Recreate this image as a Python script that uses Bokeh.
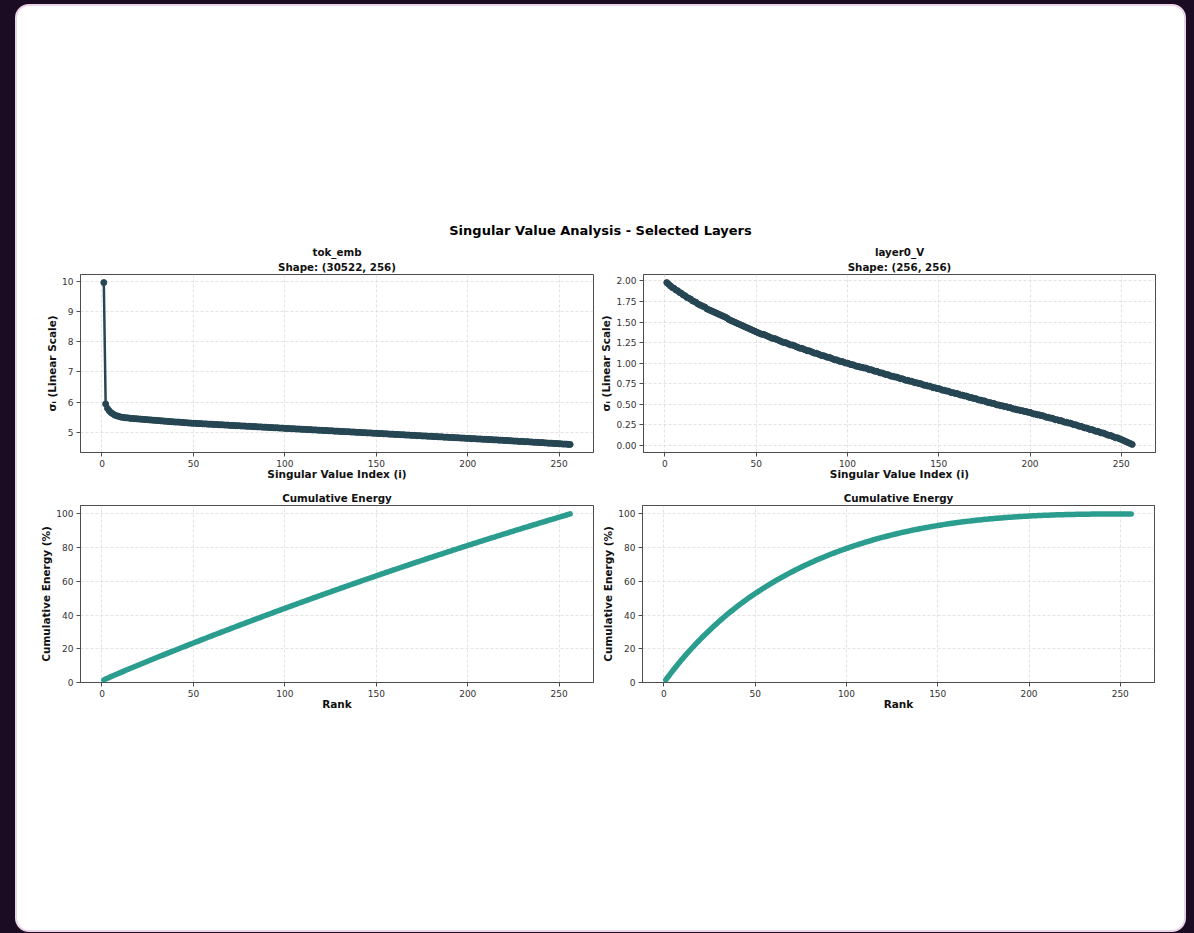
import numpy as np
from bokeh.plotting import figure
from bokeh.models import Range1d, FixedTicker, Div, NumeralTickFormatter, Title
from bokeh.layouts import column, row
from bokeh.embed import file_html
from bokeh.resources import INLINE

# Singular values of the token embedding matrix (30522 x 256), largest first
tok_emb_sv = [
    9.96, 5.94, 5.79, 5.71, 5.65, 5.61, 5.57, 5.55, 5.53, 5.51,
    5.50, 5.49, 5.48, 5.48, 5.47, 5.46, 5.46, 5.45, 5.45, 5.44,
    5.44, 5.43, 5.43, 5.42, 5.42, 5.41, 5.41, 5.40, 5.40, 5.39,
    5.39, 5.38, 5.38, 5.37, 5.37, 5.36, 5.36, 5.35, 5.35, 5.34,
    5.34, 5.34, 5.33, 5.33, 5.32, 5.32, 5.31, 5.31, 5.30, 5.30,
    5.30, 5.29, 5.29, 5.29, 5.28, 5.28, 5.28, 5.27, 5.27, 5.27,
    5.26, 5.26, 5.26, 5.25, 5.25, 5.25, 5.24, 5.24, 5.24, 5.23,
    5.23, 5.23, 5.22, 5.22, 5.22, 5.21, 5.21, 5.21, 5.20, 5.20,
    5.20, 5.19, 5.19, 5.19, 5.18, 5.18, 5.18, 5.17, 5.17, 5.17,
    5.16, 5.16, 5.16, 5.15, 5.15, 5.15, 5.14, 5.14, 5.14, 5.13,
    5.13, 5.13, 5.12, 5.12, 5.12, 5.11, 5.11, 5.11, 5.10, 5.10,
    5.10, 5.09, 5.09, 5.09, 5.08, 5.08, 5.08, 5.07, 5.07, 5.07,
    5.06, 5.06, 5.06, 5.05, 5.05, 5.05, 5.04, 5.04, 5.04, 5.03,
    5.03, 5.03, 5.02, 5.02, 5.02, 5.01, 5.01, 5.01, 5.00, 5.00,
    5.00, 4.99, 4.99, 4.99, 4.98, 4.98, 4.98, 4.97, 4.97, 4.97,
    4.96, 4.96, 4.96, 4.95, 4.95, 4.95, 4.94, 4.94, 4.94, 4.93,
    4.93, 4.93, 4.92, 4.92, 4.92, 4.91, 4.91, 4.91, 4.90, 4.90,
    4.90, 4.89, 4.89, 4.89, 4.88, 4.88, 4.88, 4.87, 4.87, 4.87,
    4.86, 4.86, 4.86, 4.85, 4.85, 4.85, 4.84, 4.84, 4.84, 4.83,
    4.83, 4.83, 4.82, 4.82, 4.82, 4.81, 4.81, 4.81, 4.80, 4.80,
    4.80, 4.79, 4.79, 4.79, 4.78, 4.78, 4.78, 4.77, 4.77, 4.77,
    4.76, 4.76, 4.76, 4.75, 4.75, 4.75, 4.74, 4.74, 4.74, 4.73,
    4.73, 4.73, 4.72, 4.72, 4.71, 4.71, 4.71, 4.70, 4.70, 4.70,
    4.69, 4.69, 4.69, 4.68, 4.68, 4.67, 4.67, 4.67, 4.66, 4.66,
    4.66, 4.65, 4.65, 4.64, 4.64, 4.64, 4.63, 4.63, 4.63, 4.62,
    4.62, 4.61, 4.61, 4.61, 4.60, 4.60,
]

# Singular values of the first layer's value projection (256 x 256)
layer0_v_sv = [
    1.98, 1.96, 1.94, 1.92, 1.91, 1.89, 1.88, 1.86, 1.85, 1.83,
    1.82, 1.80, 1.79, 1.78, 1.76, 1.75, 1.74, 1.72, 1.71, 1.70,
    1.69, 1.68, 1.66, 1.65, 1.64, 1.63, 1.62, 1.61, 1.60, 1.59,
    1.58, 1.57, 1.56, 1.55, 1.53, 1.52, 1.51, 1.50, 1.49, 1.48,
    1.47, 1.46, 1.45, 1.44, 1.43, 1.42, 1.41, 1.40, 1.39, 1.38,
    1.37, 1.36, 1.35, 1.35, 1.34, 1.33, 1.32, 1.31, 1.30, 1.30,
    1.29, 1.28, 1.27, 1.26, 1.25, 1.25, 1.24, 1.23, 1.22, 1.22,
    1.21, 1.20, 1.19, 1.18, 1.18, 1.17, 1.16, 1.15, 1.15, 1.14,
    1.13, 1.12, 1.12, 1.11, 1.10, 1.09, 1.09, 1.08, 1.07, 1.07,
    1.06, 1.05, 1.04, 1.04, 1.03, 1.02, 1.02, 1.01, 1.00, 1.00,
    0.99, 0.98, 0.98, 0.97, 0.96, 0.96, 0.95, 0.95, 0.94, 0.94,
    0.93, 0.92, 0.92, 0.91, 0.90, 0.90, 0.89, 0.88, 0.88, 0.87,
    0.86, 0.86, 0.85, 0.84, 0.84, 0.83, 0.83, 0.82, 0.81, 0.81,
    0.80, 0.79, 0.79, 0.78, 0.78, 0.77, 0.76, 0.76, 0.75, 0.75,
    0.74, 0.73, 0.73, 0.72, 0.72, 0.71, 0.70, 0.70, 0.69, 0.69,
    0.68, 0.67, 0.67, 0.66, 0.66, 0.65, 0.64, 0.64, 0.63, 0.63,
    0.62, 0.61, 0.61, 0.60, 0.60, 0.59, 0.58, 0.58, 0.57, 0.57,
    0.56, 0.55, 0.55, 0.54, 0.54, 0.53, 0.52, 0.52, 0.51, 0.51,
    0.50, 0.49, 0.49, 0.48, 0.48, 0.47, 0.47, 0.46, 0.46, 0.45,
    0.44, 0.44, 0.43, 0.43, 0.42, 0.42, 0.41, 0.41, 0.40, 0.40,
    0.39, 0.38, 0.38, 0.37, 0.37, 0.36, 0.36, 0.35, 0.34, 0.34,
    0.33, 0.33, 0.32, 0.31, 0.31, 0.30, 0.30, 0.29, 0.28, 0.28,
    0.27, 0.27, 0.26, 0.25, 0.25, 0.24, 0.23, 0.23, 0.22, 0.21,
    0.21, 0.20, 0.19, 0.19, 0.18, 0.17, 0.17, 0.16, 0.15, 0.15,
    0.14, 0.13, 0.12, 0.12, 0.11, 0.10, 0.09, 0.09, 0.08, 0.07,
    0.06, 0.05, 0.04, 0.03, 0.02, 0.01,
]

rank = list(range(1, len(tok_emb_sv) + 1))
rank_v = list(range(1, len(layer0_v_sv) + 1))

x_ticks = [0, 50, 100, 150, 200, 250]
tok_emb_yticks = [5, 6, 7, 8, 9, 10]
layer0_v_yticks = [0.0, 0.25, 0.5, 0.75, 1.0, 1.25, 1.5, 1.75, 2.0]
energy_yticks = [0, 20, 40, 60, 80, 100]

suptitle = "Singular Value Analysis - Selected Layers"
layer_names = ["tok_emb", "layer0_V"]
layer_shapes = ["Shape: (30522, 256)", "Shape: (256, 256)"]

FONT = "DejaVu Sans"
SV_COLOR = "#264653"
ENERGY_COLOR = "#2a9d8f"
FRAME_COLOR = "#4d4d4d"


def cumulative_energy(sv):
    s2 = np.asarray(sv, dtype=float) ** 2
    return np.cumsum(s2) / s2.sum() * 100.0


def padded(lo, hi, frac=0.05):
    d = (hi - lo) * frac
    return lo - d, hi + d


def style_title(t):
    t.align = "center"
    t.text_font = FONT
    t.text_font_size = "10.3px"
    t.text_font_style = "bold"
    t.text_color = "#111111"
    t.standoff = 3
    t.offset = 0


def make_axes(title, xlabel, ylabel, yrange, yticks, frame_w, frame_h,
              left, right, top, bottom):
    xr = padded(1, 256)
    p = figure(frame_width=frame_w, frame_height=frame_h,
               x_range=Range1d(*xr), y_range=Range1d(*yrange),
               output_backend="svg", toolbar_location=None,
               min_border_left=left, min_border_right=right,
               min_border_top=top, min_border_bottom=bottom,
               background_fill_color="white", border_fill_color=None)
    p.title.text = title
    style_title(p.title)

    p.outline_line_color = FRAME_COLOR
    p.outline_line_width = 1
    p.outline_line_alpha = 1

    for ax in (p.xaxis[0], p.yaxis[0]):
        ax.axis_line_color = FRAME_COLOR
        ax.major_tick_line_color = FRAME_COLOR
        ax.major_tick_out = 4
        ax.major_tick_in = 0
        ax.minor_tick_line_color = None
        ax.major_label_text_font = FONT
        ax.major_label_text_font_size = "9px"
        ax.major_label_text_color = "#333333"
        ax.major_label_standoff = 3
        ax.axis_label_text_font = FONT
        ax.axis_label_text_font_size = "10.5px"
        ax.axis_label_text_font_style = "bold"
        ax.axis_label_text_color = "#111111"
        ax.axis_label_standoff = 1

    p.xaxis[0].axis_label_standoff = -2
    p.xaxis[0].axis_label = xlabel
    p.yaxis[0].axis_label = ylabel
    p.xaxis[0].ticker = FixedTicker(ticks=x_ticks)
    p.yaxis[0].ticker = FixedTicker(ticks=yticks)

    p.grid.grid_line_color = "#dcdcdc"
    p.grid.grid_line_dash = "3 2"
    p.grid.grid_line_width = 0.8
    return p


def sv_panel(sv, ranks, name, shape, yticks, frame_w, left, right):
    yr = padded(min(sv), max(sv))
    p = make_axes(name, "Singular Value Index (i)", "σᵢ (Linear Scale)",
                  yr, yticks, frame_w, 178, left, right, 33, 36)
    p.title.standoff = 0
    sub = Title(text=shape)
    style_title(sub)
    p.add_layout(sub, "above")
    p.line(ranks, sv, line_width=2.5, color=SV_COLOR)
    p.scatter(ranks, sv, size=6, color=SV_COLOR)
    return p


def energy_panel(sv, ranks, frame_w, left, right):
    p = make_axes("Cumulative Energy", "Rank", "Cumulative Energy (%)",
                  (0, 105), energy_yticks, frame_w, 177, left, right, 16, 40)
    p.line(ranks, cumulative_energy(sv), line_width=5.5, color=ENERGY_COLOR,
           line_cap="round")
    return p


tl = sv_panel(tok_emb_sv, rank, layer_names[0], layer_shapes[0],
              tok_emb_yticks, 513, 63, 4)
tr = sv_panel(layer0_v_sv, rank_v, layer_names[1], layer_shapes[1],
              layer0_v_yticks, 512, 45, 20)
tr.yaxis[0].formatter = NumeralTickFormatter(format="0.00")
bl = energy_panel(tok_emb_sv, rank, 513, 63, 4)
br = energy_panel(layer0_v_sv, rank_v, 512, 45, 20)

heading = Div(text=suptitle, width=1167, height=20, margin=(215, 0, 0, 0),
              styles={"text-align": "center", "font-family": FONT,
                      "font-weight": "bold", "font-size": "13px",
                      "line-height": "20px", "color": "#000000"})

card = column(heading, row(tl, tr), row(bl, br),
              width=1171, height=928, margin=(4, 0, 0, 15),
              styles={"background-color": "#ffffff",
                      "border": "2px solid #ead5e6",
                      "border-radius": "14px",
                      "box-sizing": "border-box",
                      "overflow": "hidden"})

page = column(card, width=1194, height=933,
              styles={"background-color": "#1b0c24"})

open("out.html", "w").write(file_html(page, INLINE))
